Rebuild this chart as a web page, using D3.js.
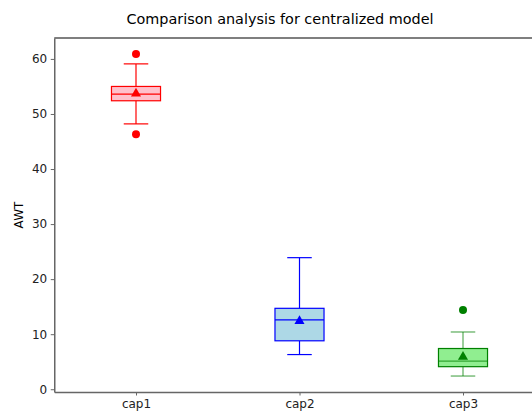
<!DOCTYPE html>
<html>
<head>
<meta charset="utf-8">
<script src="https://cdn.jsdelivr.net/npm/d3@7"></script>
<style>
  body { margin: 0; background: #fff; }
  svg { display: block; font-family: "DejaVu Sans", sans-serif; }
</style>
</head>
<body>
<div class="boxChart"></div>
<script>
var categories = ['cap1', 'cap2', 'cap3'];
var whiskerLow = [48.2, 6.3, 2.4];
var q1 = [52.4, 8.8, 4.1];
var medians = [53.6, 12.6, 5.1];
var q3 = [55.0, 14.7, 7.4];
var whiskerHigh = [59.1, 23.9, 10.4];
var means = [53.7, 12.4, 5.9];
var outliers = [[60.9, 46.3], [], [14.4]];
var yTicks = [0, 10, 20, 30, 40, 50, 60];

var fills = ['pink', 'lightblue', 'lightgreen'];
var edges = ['red', 'blue', 'green'];

var width = 532, height = 413;

var svg = d3.select('.boxChart')
            .append('svg')
            .attr('width', width)
            .attr('height', height);

// scales
var xscale = d3.scaleLinear()
               .domain([0.5, 3.5])
               .range([54.25, 544.75]);

var yscale = d3.scaleLinear()
               .domain([-0.5, 63.8])
               .range([392, 38]);

var boxW = xscale(1.15) - xscale(0.85);
var capW = boxW / 2;

svg.append('text')
   .attr('x', 280)
   .attr('y', 24)
   .attr('text-anchor', 'middle')
   .style('font-size', '14.4px')
   .text('Comparison analysis for centralized model');

// top spine
svg.append('line')
   .attr('x1', xscale(0.5)).attr('x2', xscale(3.5))
   .attr('y1', yscale(63.8)).attr('y2', yscale(63.8))
   .attr('stroke', '#000')
   .attr('stroke-width', 1.2);

var boxes = svg.append('g').selectAll('g')
               .data(categories)
               .enter().append('g');

boxes.each(function(d, i) {
  var g = d3.select(this);
  var cx = xscale(i + 1);
  var wOp = i == 2 ? 0.65 : 1;

  // whiskers
  g.append('line')
   .attr('x1', cx).attr('x2', cx)
   .attr('y1', yscale(q3[i])).attr('y2', yscale(whiskerHigh[i]))
   .attr('stroke', edges[i]).attr('stroke-opacity', wOp)
   .attr('stroke-width', 1.2);
  g.append('line')
   .attr('x1', cx).attr('x2', cx)
   .attr('y1', yscale(q1[i])).attr('y2', yscale(whiskerLow[i]))
   .attr('stroke', edges[i]).attr('stroke-opacity', wOp)
   .attr('stroke-width', 1.2);

  // caps
  [whiskerHigh[i], whiskerLow[i]].forEach(function(v) {
    g.append('line')
     .attr('x1', cx - capW / 2).attr('x2', cx + capW / 2)
     .attr('y1', yscale(v)).attr('y2', yscale(v))
     .attr('stroke', edges[i]).attr('stroke-opacity', wOp)
     .attr('stroke-width', 1.2);
  });

  // box
  g.append('rect')
   .attr('x', cx - boxW / 2)
   .attr('y', yscale(q3[i]))
   .attr('width', boxW)
   .attr('height', yscale(q1[i]) - yscale(q3[i]))
   .attr('fill', fills[i])
   .attr('stroke', edges[i])
   .attr('stroke-width', 1.2);

  // median
  g.append('line')
   .attr('x1', cx - boxW / 2).attr('x2', cx + boxW / 2)
   .attr('y1', yscale(medians[i])).attr('y2', yscale(medians[i]))
   .attr('stroke', edges[i])
   .attr('stroke-opacity', wOp)
   .attr('stroke-width', 1.2);

  // mean
  g.append('path')
   .attr('d', d3.symbol().type(d3.symbolTriangle).size(44))
   .attr('transform', 'translate(' + cx + ',' + yscale(means[i]) + ')')
   .attr('fill', edges[i]);

  // outliers
  g.selectAll('circle')
   .data(outliers[i])
   .enter().append('circle')
   .attr('cx', cx)
   .attr('cy', function(v) { return yscale(v); })
   .attr('r', 4)
   .attr('fill', edges[i]);
});

// axes
var y_axis = d3.axisLeft(yscale)
               .tickValues(yTicks)
               .tickSizeInner(3.5)
               .tickSizeOuter(0)
               .tickPadding(3.5);

var x_axis = d3.axisBottom(xscale)
               .tickValues([1, 2, 3])
               .tickFormat(function(d) { return categories[d - 1]; })
               .tickSizeInner(3.5)
               .tickSizeOuter(0)
               .tickPadding(3.5);

var ya = svg.append('g')
   .attr('transform', 'translate(' + xscale(0.5) + ',0)')
   .call(y_axis);

var xa = svg.append('g')
   .attr('transform', 'translate(0,' + yscale(-0.5) + ')')
   .call(x_axis);

[ya, xa].forEach(function(a) {
  a.select('.domain').attr('stroke', '#666').attr('stroke-width', 1.5);
  a.selectAll('.tick line').attr('stroke', '#666');
  a.selectAll('.tick text')
   .attr('fill', '#222')
   .style('font-size', '12px')
   .style('font-family', '"DejaVu Sans", sans-serif');
});

svg.append('text')
   .attr('transform', 'translate(23,' + yscale(31.65) + ') rotate(-90)')
   .attr('text-anchor', 'middle')
   .style('font-size', '12px')
   .text('AWT');
</script>
</body>
</html>
